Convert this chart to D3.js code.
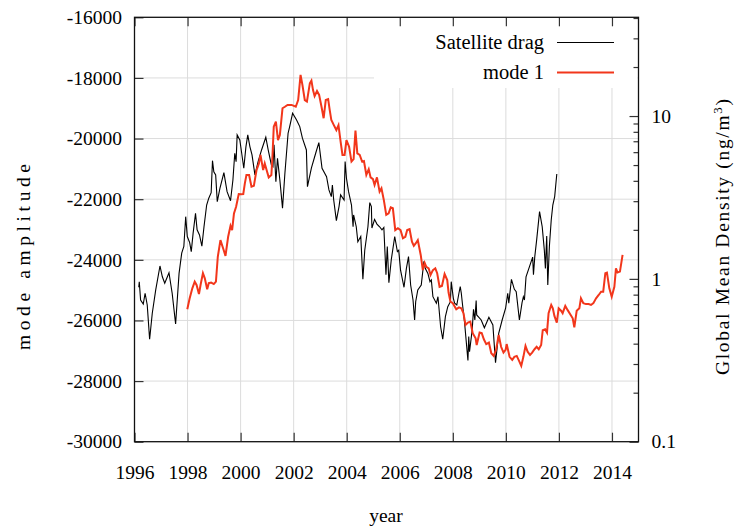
<!DOCTYPE html>
<html>
<head>
<meta charset="utf-8">
<script src="https://cdn.jsdelivr.net/npm/d3@7/dist/d3.min.js"></script>
<style>
  body { margin: 0; background: #fff; }
  text { font-family: "Liberation Serif", "DejaVu Serif", serif; fill: #000; }
</style>
</head>
<body>
<svg id="chart" width="736" height="530"></svg>
<script>
// Satellite drag: global mean density (ng/m^3), right-hand log axis
const dragYears = [
  1996.16,1996.18,1996.23,1996.33,1996.40,1996.48,1996.57,1996.67,1996.80,1996.96,
  1997.05,1997.14,1997.30,1997.42,1997.55,1997.68,1997.78,1997.86,1997.93,1997.99,
  1998.08,1998.14,1998.21,1998.30,1998.36,1998.45,1998.54,1998.62,1998.72,1998.80,
  1998.89,1998.94,1998.99,1999.06,1999.12,1999.22,1999.37,1999.49,1999.62,1999.71,
  1999.78,1999.83,1999.87,1999.97,2000.04,2000.12,2000.20,2000.27,2000.35,2000.43,
  2000.54,2000.66,2000.79,2000.95,2001.04,2001.16,2001.22,2001.26,2001.33,2001.39,
  2001.48,2001.58,2001.67,2001.79,2001.85,2001.96,2002.11,2002.23,2002.33,2002.48,
  2002.52,2002.67,2002.83,2002.95,2003.07,2003.24,2003.33,2003.42,2003.46,2003.51,
  2003.61,2003.71,2003.77,2003.90,2003.94,2003.99,2004.07,2004.18,2004.24,2004.26,
  2004.36,2004.42,2004.53,2004.61,2004.68,2004.80,2004.87,2004.93,2004.95,2005.05,
  2005.14,2005.24,2005.33,2005.40,2005.48,2005.53,2005.59,2005.68,2005.81,2005.91,
  2005.96,2006.03,2006.16,2006.25,2006.33,2006.41,2006.50,2006.56,2006.60,2006.68,
  2006.81,2006.91,2006.96,2007.06,2007.14,2007.19,2007.25,2007.38,2007.44,2007.54,
  2007.62,2007.72,2007.81,2007.91,2007.94,2008.02,2008.07,2008.15,2008.23,2008.28,
  2008.32,2008.36,2008.44,2008.57,2008.60,2008.63,2008.73,2008.78,2008.83,2008.88,
  2008.90,2009.07,2009.19,2009.36,2009.51,2009.61,2009.73,2009.86,2009.99,2010.07,
  2010.11,2010.21,2010.32,2010.39,2010.51,2010.61,2010.66,2010.70,2010.76,2010.89,
  2011.01,2011.04,2011.09,2011.16,2011.27,2011.37,2011.45,2011.49,2011.54,2011.58,
  2011.64,2011.71,2011.77,2011.84,2011.92
];
const dragDensity = [
  0.888,0.961,0.742,0.701,0.816,0.691,0.426,0.615,0.855,1.20,
  1.03,0.94,1.09,0.816,0.528,1.08,1.44,1.58,2.41,1.82,
  1.67,1.47,1.91,2.53,2.00,1.86,1.59,2.09,2.84,3.13,
  3.38,5.32,4.55,4.35,2.98,3.60,4.49,3.43,3.02,4.05,
  5.91,5.25,7.66,7.13,5.93,4.78,6.46,7.66,6.49,5.77,
  4.35,5.25,6.19,7.41,6.19,5.01,4.89,6.65,3.95,5.51,
  4.05,2.72,4.45,7.84,8.61,10.4,9.46,8.61,7.31,6.19,
  3.68,4.80,5.91,6.87,4.78,4.24,3.52,3.20,3.77,3.05,
  2.28,2.78,3.28,3.05,5.25,4.15,3.43,2.84,2.09,2.47,
  2.09,1.69,1.82,0.994,1.50,2.09,2.94,2.78,2.05,2.32,
  2.17,2.09,2.00,2.07,1.06,1.58,0.948,1.31,1.82,1.47,
  1.50,1.13,0.888,1.16,1.37,0.917,0.742,0.559,0.724,0.855,
  0.917,1.28,1.16,1.08,0.961,0.985,0.777,0.708,0.777,0.508,
  0.426,0.586,0.675,0.724,0.961,0.760,0.708,0.691,0.816,0.896,
  0.816,0.708,0.546,0.315,0.442,0.357,0.486,0.651,0.559,0.735,
  0.600,0.559,0.501,0.581,0.521,0.306,0.463,0.559,0.660,0.816,
  0.708,0.994,0.863,0.834,0.559,0.714,0.777,0.742,1.03,1.19,
  1.36,1.06,1.37,1.73,2.59,2.09,1.50,1.16,1.83,0.917,
  1.58,2.30,2.84,3.20,4.41
];

// Mode 1 amplitude, left-hand axis
const modeYears = [
  1997.99,1998.08,1998.18,1998.27,1998.34,1998.43,1998.49,1998.58,1998.65,1998.74,
  1998.80,1998.89,1998.99,1999.07,1999.14,1999.24,1999.34,1999.43,1999.53,1999.62,
  1999.68,1999.75,1999.83,1999.93,2000.02,2000.10,2000.16,2000.22,2000.32,2000.41,
  2000.50,2000.60,2000.69,2000.75,2000.85,2000.91,2000.98,2001.06,2001.16,2001.20,
  2001.25,2001.33,2001.41,2001.48,2001.58,2001.67,2001.77,2001.92,2002.08,2002.17,
  2002.26,2002.33,2002.42,2002.50,2002.61,2002.67,2002.73,2002.79,2002.88,2002.96,
  2003.05,2003.13,2003.21,2003.30,2003.36,2003.42,2003.51,2003.61,2003.69,2003.77,
  2003.84,2003.92,2003.99,2004.09,2004.18,2004.26,2004.33,2004.40,2004.49,2004.58,
  2004.65,2004.74,2004.83,2004.90,2004.99,2005.05,2005.14,2005.24,2005.31,2005.40,
  2005.49,2005.58,2005.66,2005.74,2005.83,2005.93,2006.03,2006.12,2006.21,2006.28,
  2006.37,2006.46,2006.53,2006.60,2006.68,2006.79,2006.87,2006.94,2007.00,2007.09,
  2007.16,2007.25,2007.34,2007.41,2007.50,2007.59,2007.69,2007.79,2007.84,2007.91,
  2008.00,2008.13,2008.23,2008.32,2008.40,2008.48,2008.57,2008.66,2008.75,2008.86,
  2008.90,2009.01,2009.09,2009.17,2009.26,2009.36,2009.45,2009.54,2009.63,2009.73,
  2009.82,2009.91,2009.99,2010.03,2010.14,2010.24,2010.32,2010.41,2010.51,2010.58,
  2010.66,2010.74,2010.82,2010.91,2010.99,2011.08,2011.16,2011.24,2011.33,2011.39,
  2011.48,2011.55,2011.61,2011.71,2011.77,2011.83,2011.92,2011.99,2012.08,2012.14,
  2012.24,2012.33,2012.42,2012.52,2012.58,2012.67,2012.77,2012.83,2012.92,2013.02,
  2013.12,2013.21,2013.30,2013.40,2013.50,2013.59,2013.67,2013.75,2013.81,2013.90,
  2013.99,2014.09,2014.15,2014.21,2014.30,2014.40
];
const modeAmplitude = [
  -25630,-25270,-24940,-24720,-24830,-25130,-24830,-24440,-24610,-24970,
  -24770,-24750,-24800,-24720,-23900,-23350,-23620,-23870,-23240,-22880,
  -23020,-22470,-22250,-21830,-21840,-21830,-21480,-21200,-21200,-21590,
  -21560,-21040,-20820,-20540,-21040,-20820,-21040,-21280,-21200,-20600,
  -19610,-19440,-20050,-19880,-19000,-18950,-18890,-18890,-18950,-18730,
  -17900,-18230,-18730,-18780,-18180,-18090,-18400,-18600,-18430,-18560,
  -18950,-19330,-18730,-18700,-19060,-19390,-19550,-19720,-19560,-20100,
  -20540,-20540,-20050,-20270,-20760,-20680,-19740,-20490,-20540,-20760,
  -20740,-21200,-21010,-21280,-21340,-21530,-21280,-21750,-21640,-22030,
  -22520,-22470,-22270,-22300,-23020,-22960,-23020,-23290,-23240,-23020,
  -22990,-23400,-23540,-23460,-23350,-23840,-24340,-24100,-24230,-24280,
  -24500,-24340,-24280,-24440,-24890,-24860,-24470,-24670,-25080,-25380,
  -25430,-25630,-25570,-25600,-25760,-26150,-26070,-26040,-26420,-26590,
  -26810,-26400,-26420,-26620,-26780,-26730,-27080,-27170,-26970,-26480,
  -26870,-27060,-26970,-26780,-27200,-27300,-27200,-27170,-27360,-27500,
  -27200,-26840,-27030,-27140,-27060,-26950,-26870,-26950,-26810,-26320,
  -26290,-26400,-25760,-25490,-25600,-25850,-26070,-25600,-25680,-25760,
  -25520,-25660,-25790,-25930,-26230,-25680,-25600,-25270,-25430,-25460,
  -25460,-25490,-25430,-25270,-25160,-25050,-25050,-24440,-24420,-24940,
  -25220,-24890,-24280,-24420,-24390,-23840
];

const yearTicks = [1996,1998,2000,2002,2004,2006,2008,2010,2012,2014];
const amplitudeTicks = [-30000,-28000,-26000,-24000,-22000,-20000,-18000,-16000];
const densityMajorTicks = [0.1, 1, 10];
const densityMinorTicks = [0.2,0.3,0.4,0.5,0.6,0.7,0.8,0.9,2,3,4,5,6,7,8,9,20,30,40];
const seriesNames = ["Satellite drag", "mode 1"];

const plot = { left: 134.5, right: 638.5, top: 17.3, bottom: 441.7 };
const fontSize = 19.5;
const red = "#f2361b";

const svg = d3.select("#chart");

const x = d3.scaleLinear().domain([1996, 2015]).range([plot.left, plot.right]);
const yAmp = d3.scaleLinear().domain([-30000, -16000]).range([plot.bottom, plot.top]);
const yDen = d3.scaleLog().domain([0.1, 40.4]).range([plot.bottom, plot.top]);

// grid
const grid = svg.append("g").attr("stroke", "#dcdcdc").attr("stroke-width", 1);
grid.selectAll("line.h").data(amplitudeTicks.slice(1, -1)).join("line")
  .attr("x1", plot.left).attr("x2", plot.right)
  .attr("y1", d => yAmp(d)).attr("y2", d => yAmp(d));
grid.selectAll("line.v").data(yearTicks.slice(1)).join("line")
  .attr("y1", plot.top).attr("y2", plot.bottom)
  .attr("x1", d => x(d)).attr("x2", d => x(d));

// series
const dragLine = d3.line().x((d, i) => x(dragYears[i])).y(d => yDen(d));
const modeLine = d3.line().x((d, i) => x(modeYears[i])).y(d => yAmp(d));

svg.append("path").datum(dragDensity)
  .attr("d", dragLine).attr("fill", "none")
  .attr("stroke", "#000").attr("stroke-width", 1.1);
svg.append("path").datum(modeAmplitude)
  .attr("d", modeLine).attr("fill", "none")
  .attr("stroke", red).attr("stroke-width", 2);

// legend box (opaque background)
svg.append("rect")
  .attr("x", 374).attr("y", plot.top + 1)
  .attr("width", plot.right - 374 - 1).attr("height", 88 - plot.top - 1)
  .attr("fill", "#fff");

const legend = svg.append("g");
const legendRows = [
  { name: seriesNames[0], color: "#000", width: 1.1, y: 42.5 },
  { name: seriesNames[1], color: red, width: 2, y: 72.5 }
];
legendRows.forEach(r => {
  legend.append("text").attr("x", 544).attr("y", r.y)
    .attr("dy", "0.33em").attr("text-anchor", "end")
    .attr("font-size", 20.5).text(r.name);
  legend.append("line").attr("x1", 557).attr("x2", 614)
    .attr("y1", r.y).attr("y2", r.y)
    .attr("stroke", r.color).attr("stroke-width", r.width);
});

// axes: ticks drawn inward on all four sides
const tickColor = "#333";
const bottomAxis = d3.axisBottom(x).tickValues(yearTicks).tickSize(-9).tickPadding(23)
  .tickFormat(d3.format("d"));
const topAxis = d3.axisTop(x).tickValues(yearTicks).tickSize(-9).tickFormat("");
const leftAxis = d3.axisLeft(yAmp).tickValues(amplitudeTicks).tickSize(-9).tickPadding(12.5)
  .tickFormat(d => d3.format("d")(d).replace("\u2212", "-"));
const rightMajor = d3.axisRight(yDen).tickValues(densityMajorTicks).tickSize(-9).tickPadding(13)
  .tickFormat(d => String(d));
const rightMinor = d3.axisRight(yDen).tickValues(densityMinorTicks).tickSize(-5).tickFormat("");

function styleAxis(g) {
  g.select(".domain").remove();
  g.selectAll(".tick line").attr("stroke", tickColor).attr("stroke-width", 1.2);
  g.selectAll(".tick text").attr("font-size", fontSize)
    .attr("font-family", "Liberation Serif").attr("fill", "#000");
}

svg.append("g").attr("transform", `translate(0,${plot.bottom})`).call(bottomAxis).call(styleAxis);
svg.append("g").attr("transform", `translate(0,${plot.top})`).call(topAxis).call(styleAxis);
svg.append("g").attr("transform", `translate(${plot.left},0)`).call(leftAxis).call(styleAxis);
svg.append("g").attr("transform", `translate(${plot.right},0)`).call(rightMajor).call(styleAxis);
svg.append("g").attr("transform", `translate(${plot.right},0)`).call(rightMinor).call(styleAxis);

// frame
svg.append("rect")
  .attr("x", plot.left).attr("y", plot.top)
  .attr("width", plot.right - plot.left).attr("height", plot.bottom - plot.top)
  .attr("fill", "none").attr("stroke", "#111").attr("stroke-width", 1.3);

// axis titles
svg.append("text").attr("x", 386).attr("y", 522)
  .attr("text-anchor", "middle").attr("font-size", fontSize).text("year");

svg.append("text")
  .attr("transform", "translate(30,257) rotate(-90)")
  .attr("text-anchor", "middle").attr("font-size", fontSize)
  .attr("textLength", 186).attr("lengthAdjust", "spacing")
  .text("mode amplitude");

const rt = svg.append("text")
  .attr("transform", "translate(729,237) rotate(-90)")
  .attr("text-anchor", "middle").attr("font-size", fontSize)
  .attr("textLength", 276).attr("lengthAdjust", "spacing");
rt.append("tspan").text("Global Mean Density (ng/m");
rt.append("tspan").attr("font-size", 13).attr("dy", -7).text("3");
rt.append("tspan").attr("dy", 7).text(")");
</script>
</body>
</html>
